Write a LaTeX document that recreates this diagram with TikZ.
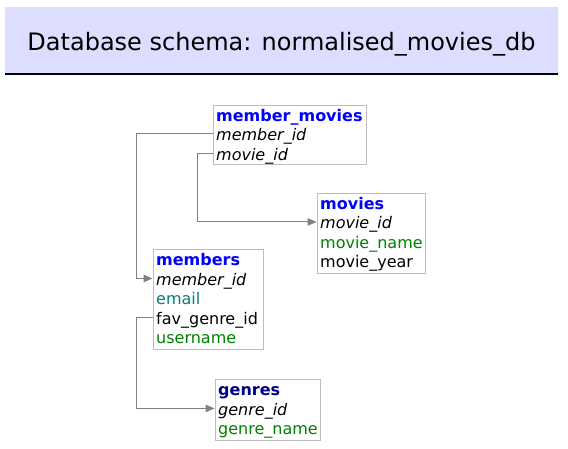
\documentclass[tikz,border=0pt]{standalone}
\usepackage{fontspec}
\setmainfont{DejaVu Sans}
\usetikzlibrary{arrows.meta}
\definecolor{hdrfill}{RGB}{221,221,255}
\definecolor{boxgray}{RGB}{190,190,190}
\definecolor{linegray}{RGB}{128,128,128}
\definecolor{tblue}{RGB}{0,0,255}
\definecolor{tnavy}{RGB}{0,0,128}
\definecolor{fgreen}{RGB}{0,128,0}
\definecolor{fteal}{RGB}{0,128,128}
\begin{document}
\begin{tikzpicture}[x=1pt,y=-1pt,
  tbl/.style={draw=boxgray, line width=1pt, anchor=north west, inner sep=0pt},
  row/.style={anchor=north west, inner xsep=3.5pt, inner ysep=0pt, text height=16.5pt, text depth=3pt, font=\fontsize{16}{19.5}\selectfont},
  ttl/.style={row, text=tblue, font=\fontsize{16}{19.5}\selectfont\bfseries},
  keyf/.style={row, font=\fontsize{16}{19.5}\selectfont\itshape},
  grn/.style={row, text=fgreen},
  teal/.style={row, text=fteal},
  fk/.style={draw=linegray, line width=1pt, -{Triangle[length=9pt,width=7.5pt]}}
]
\useasboundingbox (0,0) rectangle (568,448);
% header
\fill[hdrfill] (5,7) rectangle (558,73.5);
\draw[line width=1.3pt] (5,74) -- (558,74);
\node[anchor=base, inner sep=0pt, font=\fontsize{24}{28}\selectfont] (title) at (281.5,50) {Database schema: normalised\_movies\_db};

% member_movies
\node[tbl, minimum width=153pt, minimum height=59pt] (mm) at (212.5,104.5) {};
\node[ttl] (mm0) at (212.5,104.5) {member\_movies};
\node[keyf] (mm1) at (212.5,124) {member\_id};
\node[keyf] (mm2) at (212.5,143.5) {movie\_id};

% movies
\node[tbl, minimum width=108pt, minimum height=80pt] (mv) at (316.5,192.5) {};
\node[ttl] (mv0) at (316.5,192.5) {movies};
\node[keyf] (mv1) at (316.5,212) {movie\_id};
\node[grn] (mv2) at (316.5,231.5) {movie\_name};
\node[row] (mv3) at (316.5,251) {movie\_year};

% members
\node[tbl, minimum width=110pt, minimum height=100pt] (me) at (152.5,249) {};
\node[ttl] (me0) at (152.5,249) {members};
\node[keyf] (me1) at (152.5,268.5) {member\_id};
\node[teal] (me2) at (152.5,288) {email};
\node[row] (me3) at (152.5,307.5) {fav\_genre\_id};
\node[grn] (me4) at (152.5,327) {username};

% genres
\node[tbl, minimum width=105pt, minimum height=60.5pt] (ge) at (214.5,379) {};
\node[ttl, text=tnavy] (ge0) at (214.5,379) {genres};
\node[keyf] (ge1) at (214.5,398.5) {genre\_id};
\node[grn] (ge2) at (214.5,418) {genre\_name};

% connectors
\draw[fk] (mm1.west) -| ([xshift=-16pt]me1.west) -- (me1.west);
\draw[fk] (mm2.west) -- ++(-15.5,0) |- (mv1.west);
\draw[fk] (me3.west) -- ++(-16,0) |- (ge1.west);
\end{tikzpicture}
\end{document}
